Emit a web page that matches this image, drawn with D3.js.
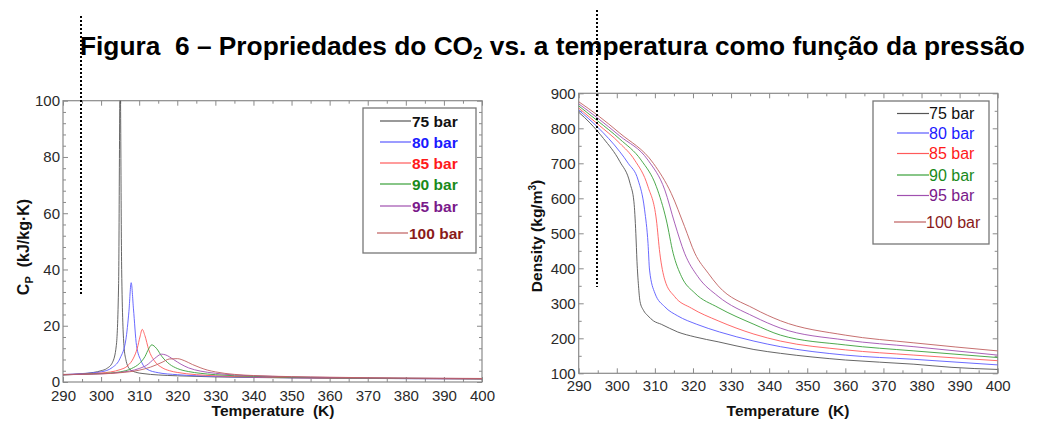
<!DOCTYPE html>
<html>
<head>
<meta charset="utf-8">
<script src="https://cdn.jsdelivr.net/npm/d3@7"></script>
<style>
  html, body { margin: 0; padding: 0; background: #fff; }
  svg { display: block; font-family: "Liberation Sans", Arial, sans-serif; }
  svg text { white-space: pre; }
</style>
</head>
<body>
<svg id="fig" width="1047" height="426"></svg>
<script>
// Series labels and colours
const seriesNames = ["75 bar", "80 bar", "85 bar", "90 bar", "95 bar", "100 bar"];
const lineColors  = ["#555555", "#5a5aff", "#ff5a5a", "#3aa03a", "#a050b0", "#c06060"];
const textColors  = ["#111111", "#1a1aff", "#ff1a1a", "#1a8a1a", "#7a1a8a", "#8a1a1a"];

// Specific heat Cp (kJ/kg·K) versus temperature (K)
const cpT75  = [290, 295, 298, 300, 301.5, 303, 304, 304.6, 305, 305.4, 306, 306.5, 307.5, 309, 311, 315, 320, 330, 340, 360, 380, 400];
const cp75   = [2.5, 2.9, 3.4, 4.0, 4.8, 7, 13, 35, 110, 40, 13, 8, 4.6, 3.5, 3.0, 2.5, 2.2, 1.8, 1.6, 1.3, 1.2, 1.1];
const cpT80  = [290, 295, 300, 303, 305, 306.5, 307.3, 307.9, 308.5, 309.3, 310.5, 312, 315, 320, 330, 340, 360, 380, 400];
const cp80   = [2.6, 3.0, 3.6, 5.2, 8.5, 15, 25, 35.3, 26, 13, 7.5, 4.6, 3.3, 2.6, 2.0, 1.7, 1.4, 1.2, 1.1];
const cpT85  = [290, 300, 305, 307, 308.5, 309.5, 310.2, 310.8, 311.5, 312.5, 314, 316, 318, 320, 325, 330, 340, 360, 380, 400];
const cp85   = [2.6, 3.2, 4.4, 5.8, 8.5, 12, 16, 18.7, 16.5, 11.5, 7.5, 5.1, 4.0, 3.4, 2.6, 2.2, 1.8, 1.4, 1.25, 1.1];
const cpT90  = [290, 300, 305, 308, 310, 311.5, 312.5, 313.3, 314.5, 316, 318, 320, 323, 326, 330, 340, 360, 380, 400];
const cp90   = [2.6, 3.0, 3.6, 4.8, 6.5, 9, 11.8, 13.2, 12, 9, 6.3, 4.8, 3.7, 3.1, 2.6, 2.0, 1.5, 1.3, 1.15];
const cpT95  = [290, 300, 305, 310, 312, 314, 315.9, 317, 319, 321, 323, 326, 330, 335, 340, 360, 380, 400];
const cp95   = [2.6, 2.9, 3.4, 4.8, 6, 8.3, 9.9, 9.6, 8, 6.3, 5, 3.9, 3.1, 2.5, 2.2, 1.6, 1.35, 1.2];
const cpT100 = [290, 300, 305, 310, 313, 316, 318, 320, 322, 324, 326, 328, 330, 335, 340, 360, 380, 400];
const cp100  = [2.7, 2.9, 3.3, 4.2, 5.3, 7, 8.2, 8.3, 7.5, 6.2, 5.1, 4.2, 3.6, 2.7, 2.3, 1.7, 1.4, 1.25];

// Density (kg/m3) versus temperature (K)
const rhoT75  = [290, 293, 296.5, 300.8, 303.5, 304.5, 305, 305.3, 305.7, 306.1, 307, 308.2, 309.6, 311.7, 316, 320.5, 326.6, 336, 343, 360, 378, 388, 400];
const rho75   = [846, 815, 771, 705, 642, 590, 500, 420, 350, 305, 280, 264, 250, 240, 218, 204, 190, 168, 157, 138, 126, 117, 111];
const rhoT80  = [290, 295, 300.8, 303, 305.6, 307.3, 308.2, 308.6, 310, 312.6, 316, 321, 327, 336, 343, 360, 378, 400];
const rho80   = [852, 803, 733, 700, 652, 567, 471, 395, 329, 290, 264, 240, 218, 192, 176, 152, 140, 124];
const rhoT85  = [290, 295, 300.8, 304.7, 308.2, 310.4, 311.3, 312.6, 315.2, 319.6, 326.6, 336, 343, 360, 378, 400];
const rho85   = [858, 812, 757, 709, 633, 538, 443, 367, 319, 286, 250, 212, 192, 167, 152, 136];
const rhoT90  = [290, 295, 300.8, 306.4, 310.4, 313, 314.8, 317, 320.5, 326.6, 336, 343, 360, 378, 400];
const rho90   = [864, 821, 769, 709, 633, 538, 443, 376, 329, 288, 240, 209, 181, 164, 145];
const rhoT95  = [290, 295, 300.8, 308.2, 312.6, 315.2, 317.8, 321.3, 326.6, 336, 343, 360, 378, 400];
const rho95   = [870, 829, 778, 709, 624, 529, 443, 376, 320, 262, 229, 195, 176, 152];
const rhoT100 = [290, 295, 300.8, 309.6, 314.3, 317.8, 320.5, 324, 326.6, 336, 343, 360, 378, 400];
const rho100  = [876, 837, 786, 700, 614, 519, 443, 386, 350, 285, 250, 209, 187, 164];

// Axis ticks
const tempTicks = [290, 300, 310, 320, 330, 340, 350, 360, 370, 380, 390, 400];
const cpTicks   = [0, 20, 40, 60, 80, 100];
const rhoTicks  = [100, 200, 300, 400, 500, 600, 700, 800, 900];

const cpSeries = [
  [cpT75, cp75], [cpT80, cp80], [cpT85, cp85], [cpT90, cp90], [cpT95, cp95], [cpT100, cp100]
].map(([t, v], i) => ({ name: seriesNames[i], pts: t.map((d, j) => [d, v[j]]) }));
const rhoSeries = [
  [rhoT75, rho75], [rhoT80, rho80], [rhoT85, rho85], [rhoT90, rho90], [rhoT95, rho95], [rhoT100, rho100]
].map(([t, v], i) => ({ name: seriesNames[i], pts: t.map((d, j) => [d, v[j]]) }));

const svg = d3.select("#fig");
const axisColor = "#8a8a8a";
const labelColor = "#2a2a2a";

function range(a, b, s) { const r = []; for (let v = a; v <= b + 1e-9; v += s) r.push(+v.toFixed(6)); return r; }

function panel(opts) {
  const { x0, x1, y0, y1, yDomain, yTicks, yMinor, series, id, legend, padX } = opts;
  const x = d3.scaleLinear().domain([290, 400]).range([x0, x1]);
  const y = d3.scaleLinear().domain(yDomain).range([y1, y0]);
  const g = svg.append("g");

  g.append("clipPath").attr("id", id).append("rect")
    .attr("x", x0).attr("y", y0).attr("width", x1 - x0).attr("height", y1 - y0);

  const minorX = range(290, 400, 5).filter(v => !tempTicks.includes(v));
  const minorY = range(yDomain[0], yDomain[1], yMinor).filter(v => !yTicks.includes(v));

  function styleAxis(sel) {
    sel.selectAll(".tick line").attr("stroke", axisColor);
    sel.selectAll(".tick text").attr("fill", labelColor).attr("font-size", 15)
      .attr("font-family", "'Liberation Sans', Arial, sans-serif");
  }

  // bottom
  g.append("g").attr("transform", `translate(0,${y1})`)
    .call(d3.axisBottom(x).tickValues(tempTicks).tickSize(-5).tickPadding(padX).tickFormat(d3.format("d")))
    .call(styleAxis);
  g.append("g").attr("transform", `translate(0,${y1})`)
    .call(d3.axisBottom(x).tickValues(minorX).tickSize(-3).tickFormat(""))
    .call(styleAxis);
  // top
  g.append("g").attr("transform", `translate(0,${y0})`)
    .call(d3.axisTop(x).tickValues(tempTicks).tickSize(-5).tickFormat(""))
    .call(styleAxis);
  g.append("g").attr("transform", `translate(0,${y0})`)
    .call(d3.axisTop(x).tickValues(minorX).tickSize(-3).tickFormat(""))
    .call(styleAxis);
  // left
  g.append("g").attr("transform", `translate(${x0},0)`)
    .call(d3.axisLeft(y).tickValues(yTicks).tickSize(-5).tickPadding(3).tickFormat(d3.format("d")))
    .call(styleAxis);
  g.append("g").attr("transform", `translate(${x0},0)`)
    .call(d3.axisLeft(y).tickValues(minorY).tickSize(-3).tickFormat(""))
    .call(styleAxis);
  // right
  g.append("g").attr("transform", `translate(${x1},0)`)
    .call(d3.axisRight(y).tickValues(yTicks).tickSize(-5).tickFormat(""))
    .call(styleAxis);
  g.append("g").attr("transform", `translate(${x1},0)`)
    .call(d3.axisRight(y).tickValues(minorY).tickSize(-3).tickFormat(""))
    .call(styleAxis);
  g.selectAll(".domain").remove();
  g.append("rect").attr("x", x0).attr("y", y0).attr("width", x1 - x0).attr("height", y1 - y0)
    .attr("fill", "none").attr("stroke", axisColor).attr("stroke-width", 1.2);

  const line = d3.line().x(d => x(d[0])).y(d => y(d[1])).curve(d3.curveMonotoneX);
  g.append("g").attr("clip-path", `url(#${id})`)
    .selectAll("path").data(series).join("path")
    .attr("d", d => line(d.pts))
    .attr("fill", "none")
    .attr("stroke", (d, i) => lineColors[i])
    .attr("stroke-width", 1)
    .attr("stroke-opacity", 0.9);

  // legend
  const L = legend;
  g.append("rect").attr("x", L.x).attr("y", L.y).attr("width", L.w).attr("height", L.h)
    .attr("fill", "#fff").attr("stroke", "#777").attr("stroke-width", 1.3);
  const rows = g.selectAll(".leg").data(seriesNames).join("g")
    .attr("transform", (d, i) => `translate(0,${L.rows[i]})`);
  rows.append("line").attr("x1", (d, i) => L.lx1 - (i === 5 ? 3 : 0)).attr("x2", (d, i) => L.lx2 - (i === 5 ? 3 : 0))
    .attr("stroke", (d, i) => lineColors[i]).attr("stroke-width", 1.2);
  rows.append("text").attr("x", (d, i) => L.tx - (i === 5 ? 3 : 0)).attr("dy", "0.36em")
    .attr("fill", (d, i) => textColors[i]).attr("font-size", L.fs).attr("font-weight", L.fw)
    .text(d => d);

  return { x, y };
}

panel({
  id: "clipCp", x0: 63, x1: 482, y0: 100.7, y1: 382, padX: 8,
  yDomain: [0, 100], yTicks: cpTicks, yMinor: 4, series: cpSeries,
  legend: { x: 363, y: 108, w: 113, h: 145, rows: [121, 142, 163, 184, 206, 233],
            lx1: 380, lx2: 411, tx: 412, fs: 15.5, fw: "bold" }
});
panel({
  id: "clipRho", x0: 578.7, x1: 997.7, y0: 93.3, y1: 373.3, padX: 7.5,
  yDomain: [100, 900], yTicks: rhoTicks, yMinor: 50, series: rhoSeries,
  legend: { x: 873, y: 101, w: 116, h: 143, rows: [113.5, 133, 153.5, 175, 195.5, 222],
            lx1: 897, lx2: 929, tx: 929, fs: 16, fw: "normal" }
});

// Axis titles
svg.append("text").attr("x", 273).attr("y", 416).attr("text-anchor", "middle")
  .attr("font-size", 15.5).attr("font-weight", "bold").attr("fill", "#111")
  .text("Temperature  (K)");
svg.append("text").attr("x", 788).attr("y", 416).attr("text-anchor", "middle")
  .attr("font-size", 15.5).attr("font-weight", "bold").attr("fill", "#111")
  .text("Temperature  (K)");

const cpLabel = svg.append("text").attr("transform", "translate(29,247) rotate(-90)")
  .attr("text-anchor", "middle").attr("font-size", 16).attr("font-weight", "bold").attr("fill", "#111");
cpLabel.append("tspan").text("C");
cpLabel.append("tspan").attr("font-size", 11).attr("dy", 4).text("P");
cpLabel.append("tspan").attr("dy", -4).text("  (kJ/kg·K)");

const rhoLabel = svg.append("text").attr("transform", "translate(542,236) rotate(-90)")
  .attr("text-anchor", "middle").attr("font-size", 15.5).attr("font-weight", "bold").attr("fill", "#111");
rhoLabel.append("tspan").text("Density (kg/m");
rhoLabel.append("tspan").attr("font-size", 10).attr("dy", -6).text("3");
rhoLabel.append("tspan").attr("dy", 6).text(")");

// Figure caption
const title = svg.append("text").attr("x", 80).attr("y", 55)
  .attr("font-size", 26.3).attr("font-weight", "bold").attr("fill", "#000");
title.append("tspan").text("Figura  6 – Propriedades do CO");
title.append("tspan").attr("font-size", 17).attr("dy", 4).text("2");
title.append("tspan").attr("dy", -4).text(" vs. a temperatura como função da pressão");

// Dotted guide lines
svg.append("line").attr("x1", 81).attr("x2", 81).attr("y1", 16).attr("y2", 295)
  .attr("stroke", "#000").attr("stroke-width", 2).attr("stroke-dasharray", "2,2");
svg.append("line").attr("x1", 597).attr("x2", 597).attr("y1", 10).attr("y2", 287)
  .attr("stroke", "#000").attr("stroke-width", 2).attr("stroke-dasharray", "2,2");
</script>
</body>
</html>
